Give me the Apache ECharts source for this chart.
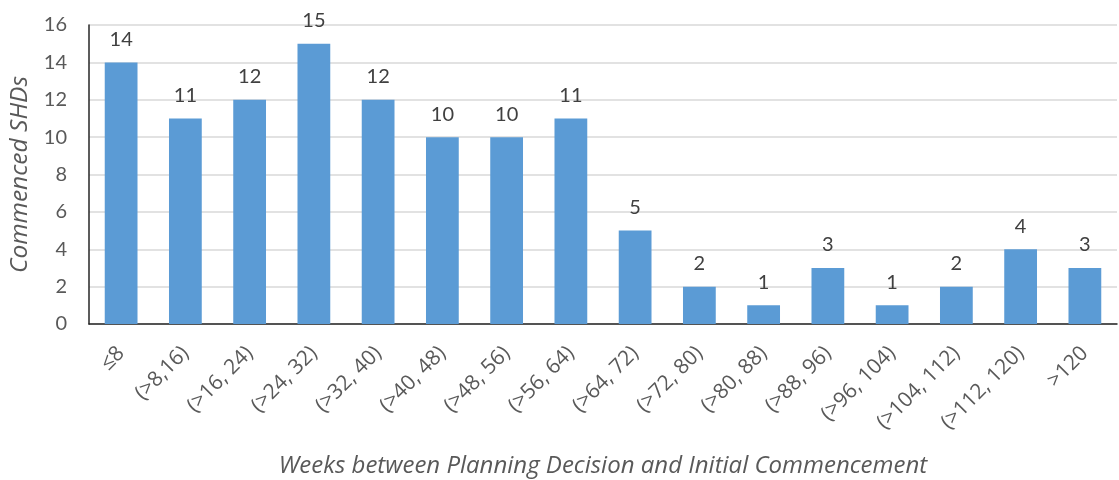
<!DOCTYPE html>
<html>
<head>
<meta charset="utf-8">
<script src="https://cdn.jsdelivr.net/npm/echarts@6/dist/echarts.min.js"></script>
<style>
  html, body { margin: 0; padding: 0; background: #fff; }
  #chart { width: 1119px; height: 480px; }
</style>
</head>
<body>
<div id="chart"></div>
<script>
// Weekly bands between planning decision and initial commencement
const categories = ['≤8', '(>8,16)', '(>16, 24)', '(>24, 32)', '(>32, 40)', '(>40, 48)', '(>48, 56)', '(>56, 64)',
  '(>64, 72)', '(>72, 80)', '(>80, 88)', '(>88, 96)', '(>96, 104)', '(>104, 112)', '(>112, 120)', '>120'];
const commenced = [14, 11, 12, 15, 12, 10, 10, 11, 5, 2, 1, 3, 1, 2, 4, 3];
const yTicks = { min: 0, max: 16, interval: 2 };

const FONT = 'Lato, "Open Sans", sans-serif';
const TITLE_FONT = '"Open Sans", Lato, sans-serif';
const chart = echarts.init(document.getElementById('chart'), null, { renderer: 'canvas' });
chart.setOption({
  animation: false,
  grid: { left: 89, right: 2, top: 25, bottom: 156, outerBoundsMode: 'none', containLabel: false },
  xAxis: {
    type: 'category',
    data: categories,
    name: 'Weeks between Planning Decision and Initial Commencement',
    nameLocation: 'middle',
    nameGap: 130,
    nameTextStyle: { fontFamily: TITLE_FONT, fontStyle: 'italic', fontSize: 24, color: '#595959' },
    axisLine: { lineStyle: { color: '#262626', width: 1.5 } },
    axisTick: { show: false },
    axisLabel: { rotate: 45, margin: 26, fontFamily: TITLE_FONT, fontSize: 21, color: '#595959' }
  },
  yAxis: {
    type: 'value',
    min: yTicks.min, max: yTicks.max, interval: yTicks.interval,
    name: 'Commenced SHDs',
    nameLocation: 'middle',
    nameGap: 55,
    nameRotate: 90,
    nameTextStyle: { fontFamily: TITLE_FONT, fontStyle: 'italic', fontSize: 24.5, color: '#595959' },
    axisLine: { show: true, lineStyle: { color: '#262626', width: 1.5 } },
    axisTick: { show: false },
    axisLabel: { margin: 22, fontFamily: FONT, fontSize: 20, color: '#595959' },
    splitLine: { lineStyle: { color: '#d9d9d9', width: 1.5 } }
  },
  series: [{
    type: 'bar',
    data: commenced,
    barWidth: '51%',
    itemStyle: { color: '#5b9bd5' },
    label: { show: true, position: 'top', distance: 13, fontFamily: FONT, fontSize: 20, color: '#404040' }
  }]
});
</script>
</body>
</html>
